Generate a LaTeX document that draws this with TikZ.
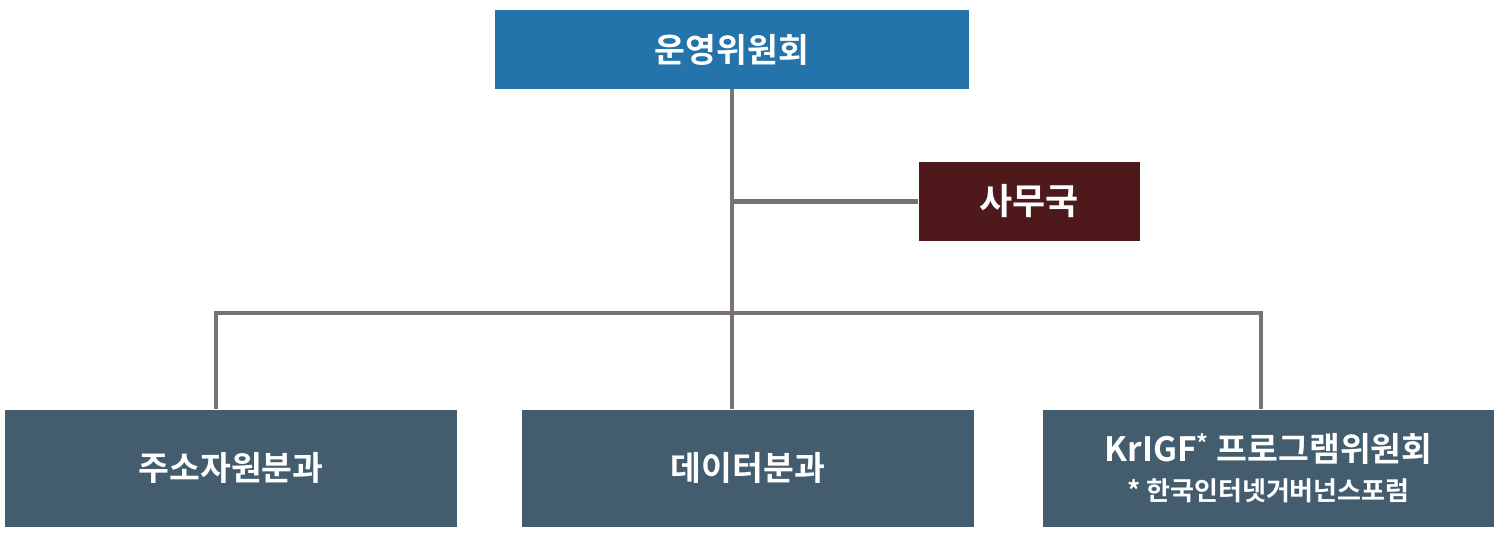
\documentclass[tikz,border=0pt]{standalone}
\usepackage{fontspec}
\setmainfont{Noto Sans CJK KR}[BoldFont={Noto Sans CJK KR Bold}]
\definecolor{boardblue}{HTML}{2473AB}
\definecolor{officered}{HTML}{4F191C}
\definecolor{unitslate}{HTML}{445D6E}
\definecolor{linegray}{HTML}{787273}
\begin{document}
\begin{tikzpicture}[x=1pt,y=-1pt,
    box/.style={rectangle,inner sep=0pt,text=white,align=center,
      font=\bfseries\fontsize{33.5}{42}\selectfont},
    unit/.style={box,fill=unitslate,minimum width=452,minimum height=117},
    link/.style={draw=linegray,line width=4.5pt}]
  \useasboundingbox (0,0) rectangle (1496,537);
  \draw
    (732,49.5) node[box,fill=boardblue,minimum width=474,minimum height=79] (board){운영위원회}
    (1029,201.5) node[box,fill=officered,minimum width=221,minimum height=79,
      font=\bfseries\fontsize{36}{42}\selectfont] (office){사무국}
    (231,468) node[unit] (addr){주소자원분과}
    (748,468) node[unit] (data){데이터분과}
    (1268.5,468) node[unit,minimum width=451] (forum){KrIGF\textsuperscript{*} 프로그램위원회\\[-3pt]
      {\fontsize{26}{40}\selectfont * 한국인터넷거버넌스포럼}};
  \coordinate (hub) at (732,313);
  \coordinate (busw) at (216,313);
  \coordinate (buse) at (1261,313);
  \begin{scope}[link]
    \draw (board.south) -- (hub) -- (hub |- data.north);
    \draw (board.south |- office.west) -- (office.west);
    \draw (addr.north -| busw) -- (busw) -- (buse) -- (forum.north -| buse);
  \end{scope}
\end{tikzpicture}
\end{document}
